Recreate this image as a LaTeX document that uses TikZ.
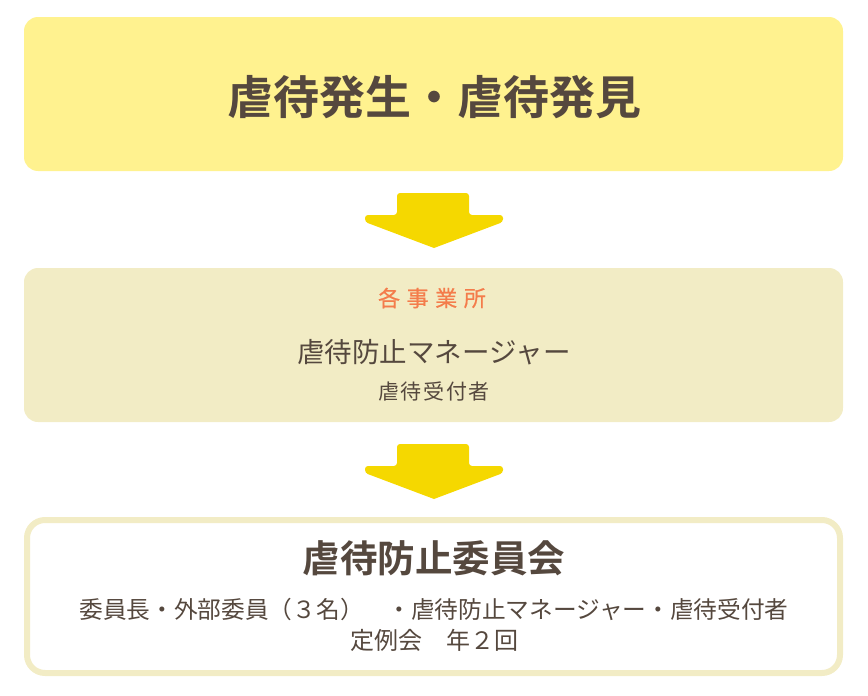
\documentclass[tikz,border=0pt]{standalone}
\usepackage{fontspec}
\setmainfont{Noto Sans CJK JP}[BoldFont={Noto Sans CJK JP Bold}]
\definecolor{topfill}{HTML}{FFF28F}
\definecolor{midfill}{HTML}{F2ECC5}
\definecolor{arrowcol}{HTML}{F5D800}
\definecolor{txt}{HTML}{55483E}
\definecolor{orangetxt}{HTML}{F47C4B}
\tikzset{
  boxA/.style={fill=topfill, draw=none, rounded corners=14pt},
  boxB/.style={fill=midfill, draw=none, rounded corners=14pt},
  boxC/.style={fill=white, draw=midfill, line width=6pt, rounded corners=18pt},
  downarrow/.style={fill=arrowcol, draw=none, rounded corners=3pt},
  lbl/.style={text=txt, inner sep=0pt, anchor=center},
}
\begin{document}
\begin{tikzpicture}[x=1pt,y=-1pt]
\useasboundingbox (0,0) rectangle (868,696);
% boxes
\path[boxA] (24,17) rectangle (843,171);
\path[boxB] (24,268) rectangle (843,422);
\path[boxC] (27,520) rectangle (840,673);
% arrows
\path[downarrow] (397,193) -- (469,193) -- (469,215) -- (503,215) -- (503,222) [sharp corners] -- (434,248) [rounded corners=3pt] -- (365,222) -- (365,215) -- (397,215) -- cycle;
\path[downarrow] (397,444) -- (469,444) -- (469,466) -- (503,466) -- (503,473) [sharp corners] -- (434,499) [rounded corners=3pt] -- (365,473) -- (365,466) -- (397,466) -- cycle;
% texts
\node[lbl, font=\fontsize{46}{46}\selectfont\bfseries] (t1) at (434,97) {虐待発生・虐待発見};
\node[lbl, text=orangetxt, font=\fontsize{22}{22}\selectfont\addfontfeature{LetterSpace=30,FakeBold=0.6}] (t2) at (432,298) {各事業所};
\node[lbl, font=\fontsize{27.5}{27.5}\selectfont] (t3) at (434,352) {虐待防止マネージャー};
\node[lbl, font=\fontsize{21}{21}\selectfont\addfontfeature{LetterSpace=8}] (t4) at (434,391) {虐待受付者};
\node[lbl, font=\fontsize{37.5}{37.5}\selectfont\bfseries] (t5) at (434,558) {虐待防止委員会};
\node[lbl, font=\fontsize{23.7}{23.7}\selectfont] (t6) at (434,609) {委員長・外部委員（３名）　・虐待防止マネージャー・虐待受付者};
\node[lbl, font=\fontsize{24}{24}\selectfont] (t7) at (434,640) {定例会　年２回};
\end{tikzpicture}
\end{document}
